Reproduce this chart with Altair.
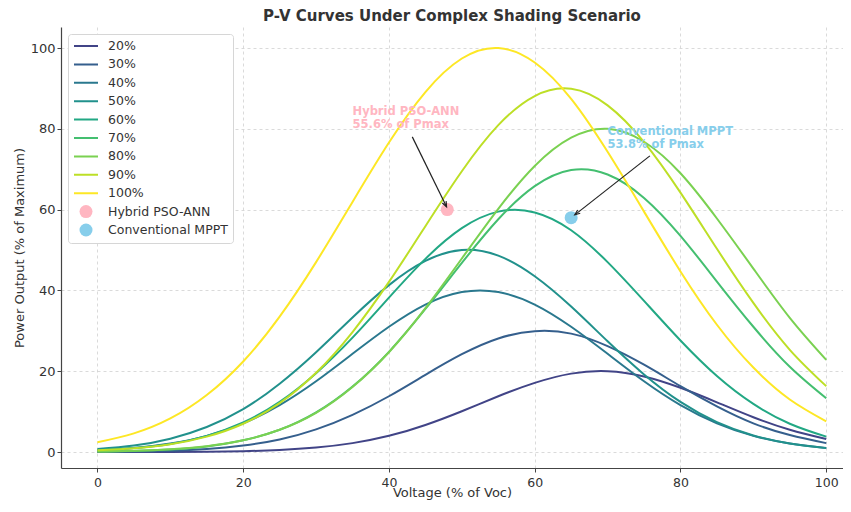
import altair as alt
import pandas as pd

# ---------------- data ----------------
voltage = [0, 5, 10, 15, 20, 25, 30, 35, 40, 45, 50, 55, 60, 65, 70, 75, 80, 85, 90, 95, 100]
series_labels = ["20%", "30%", "40%", "50%", "60%", "70%", "80%", "90%", "100%"]
p20 = [0.0, 0.01, 0.03, 0.08, 0.21, 0.5, 1.1, 2.2, 4.0, 6.7, 10.1, 13.8, 17.1, 19.4, 20.0, 18.7, 15.9, 12.3, 8.6, 5.5, 3.2]
p30 = [0.05, 0.13, 0.32, 0.75, 1.6, 3.1, 5.6, 9.2, 13.8, 19.1, 24.2, 28.1, 29.9, 29.3, 26.2, 21.6, 16.3, 11.3, 7.1, 4.2, 2.2]
p40 = [0.44, 1.0, 2.1, 4.0, 7.1, 11.6, 17.5, 24.3, 31.0, 36.5, 39.6, 39.6, 36.5, 31.0, 24.3, 17.5, 11.6, 7.1, 4.0, 2.1, 1.0]
p50 = [0.74, 1.6, 3.3, 6.2, 10.6, 16.9, 24.7, 33.3, 41.3, 47.3, 50.0, 48.6, 43.5, 36.0, 27.4, 19.2, 12.4, 7.4, 4.1, 2.1, 0.96]
p60 = [0.42, 0.97, 2.0, 4.0, 7.3, 12.4, 19.5, 28.3, 38.2, 47.8, 55.4, 59.5, 59.3, 54.9, 47.0, 37.4, 27.6, 18.8, 11.9, 7.0, 3.8]
p70 = [0.10, 0.26, 0.63, 1.39, 2.9, 5.5, 9.8, 16.2, 24.8, 35.4, 46.8, 57.6, 65.8, 69.8, 68.7, 62.9, 53.5, 42.2, 31.0, 21.1, 13.3]
p80 = [0.12, 0.29, 0.67, 1.45, 2.9, 5.5, 9.7, 16.1, 24.7, 35.6, 47.9, 60.2, 70.8, 77.8, 80.0, 76.8, 69.0, 57.8, 45.4, 33.2, 22.8]
p90 = [0.41, 0.91, 1.9, 3.8, 7.0, 12.1, 19.6, 29.7, 42.1, 55.9, 69.5, 80.9, 88.1, 89.9, 85.8, 76.7, 64.2, 50.3, 36.9, 25.3, 16.3]
p100 = [2.4, 4.6, 8.3, 14.1, 22.4, 33.5, 47.0, 61.9, 76.6, 89.1, 97.4, 100.0, 96.4, 87.4, 74.3, 59.5, 44.7, 31.5, 20.9, 13.0, 7.6]
series_values = [p20, p30, p40, p50, p60, p70, p80, p90, p100]

method_labels = ["Hybrid PSO-ANN", "Conventional MPPT"]
method_v = [48.0, 65.0]
method_p = [60.0, 58.0]

ann_texts = ["Hybrid PSO-ANN\n55.6% of Pmax", "Conventional MPPT\n53.8% of Pmax"]
ann_text_v = [35.0, 70.0]
ann_text_p = [85.6, 80.6]
arrow_start_v = [43.2, 75.8]
arrow_start_p = [78.0, 73.3]
arrow_end_v = [47.9, 65.5]
arrow_end_p = [60.7, 58.7]

# ---------------- styles ----------------
FONT = "DejaVu Sans"
line_colors = ["#414487", "#355f8d", "#2a788e", "#21918c", "#22a884",
               "#44bf70", "#7ad151", "#bddf26", "#fde725"]
method_colors = ["#FFB6C1", "#87CEEB"]
arrow_angles = [153.8, 231.9]

rows = []
for lab, vals in zip(series_labels, series_values):
    for v, p in zip(voltage, vals):
        rows.append({"V": v, "P": p, "label": lab})
lines_df = pd.DataFrame(rows)
points_df = pd.DataFrame({"V": method_v, "P": method_p, "label": method_labels})

all_labels = series_labels + method_labels
n_s, n_m = len(series_labels), len(method_labels)


def make_legend():
    return alt.Legend(
        orient="top-left", offset=7, padding=5, fillColor="white", strokeColor="#d6d6d6",
        cornerRadius=3, labelFont=FONT, labelFontSize=12.5, labelColor="#333333",
        symbolStrokeWidth=2, rowPadding=4.4, labelOffset=9, symbolOpacity=1,
        clipHeight=14,
    )


stroke_scale = alt.Scale(type="ordinal", domain=all_labels, range=line_colors + ["transparent"] * n_m)
fill_scale = alt.Scale(type="ordinal", domain=all_labels, range=["transparent"] * n_s + method_colors)
shape_scale = alt.Scale(type="ordinal", domain=all_labels, range=["stroke"] * n_s + ["circle"] * n_m)
size_scale = alt.Scale(type="ordinal", domain=all_labels, range=[576] * n_s + [169] * n_m)

x_scale = alt.Scale(domain=[-5, 102.3], nice=False, zero=False)
y_scale = alt.Scale(domain=[-3.96, 105.2], nice=False, zero=False)
x_axis = alt.Axis(values=[0, 20, 40, 60, 80, 100], title="Voltage (% of Voc)",
                  labelPadding=4, titlePadding=-2.5, labelFontSize=12.5)
y_axis = alt.Axis(values=[0, 20, 40, 60, 80, 100], title="Power Output (% of Maximum)")

lines = alt.Chart(lines_df).mark_line(strokeWidth=2, interpolate="natural").encode(
    x=alt.X("V:Q", scale=x_scale, axis=x_axis),
    y=alt.Y("P:Q", scale=y_scale, axis=y_axis),
    stroke=alt.Stroke("label:N", scale=stroke_scale, legend=make_legend(), title=None),
    order=alt.Order("V:Q"),
)

points = alt.Chart(points_df).mark_point(filled=True, opacity=1, strokeWidth=0).encode(
    x=alt.X("V:Q", scale=x_scale),
    y=alt.Y("P:Q", scale=y_scale),
    fill=alt.Fill("label:N", scale=fill_scale, legend=make_legend(), title=None),
    shape=alt.Shape("label:N", scale=shape_scale, legend=make_legend(), title=None),
    size=alt.Size("label:N", scale=size_scale, legend=make_legend(), title=None),
)

layers = [lines, points]
for i in range(2):
    adf = pd.DataFrame({"x1": [arrow_start_v[i]], "y1": [arrow_start_p[i]],
                        "x2": [arrow_end_v[i]], "y2": [arrow_end_p[i]]})
    rule = alt.Chart(adf).mark_rule(color="#222222", strokeWidth=1.2).encode(
        x=alt.X("x1:Q", scale=x_scale), y=alt.Y("y1:Q", scale=y_scale),
        x2="x2:Q", y2="y2:Q")
    head = alt.Chart(adf).mark_point(
        shape="M -0.4 1 L 0 0 L 0.4 1", filled=False, size=110, strokeWidth=1.2,
        color="#222222", opacity=1, angle=arrow_angles[i]).encode(
        x=alt.X("x2:Q", scale=x_scale), y=alt.Y("y2:Q", scale=y_scale))
    tdf = pd.DataFrame({"x": [ann_text_v[i]], "y": [ann_text_p[i]], "t": [ann_texts[i]]})
    txt = alt.Chart(tdf).mark_text(
        align="left", baseline="top", lineBreak="\n", font=FONT, fontSize=11.5,
        fontWeight="bold", color=method_colors[i], lineHeight=13).encode(
        x=alt.X("x:Q", scale=x_scale), y=alt.Y("y:Q", scale=y_scale), text="t:N")
    layers += [rule, head, txt]

chart = alt.layer(*layers).properties(
    width=782, height=441,
    title=alt.TitleParams("P-V Curves Under Complex Shading Scenario", font=FONT,
                          fontSize=15, fontWeight="bold", color="#333333",
                          anchor="middle", offset=3),
    autosize=alt.AutoSizeParams(type="none"),
    padding={"left": 53, "top": 19, "right": 0, "bottom": 32},
).configure_view(strokeWidth=0).configure_axis(
    domainColor="#444444", domainWidth=1.2, tickColor="#444444", tickSize=4,
    labelFont=FONT, labelFontSize=13, labelColor="#333333",
    titleFont=FONT, titleFontSize=13, titleColor="#333333", titleFontWeight="normal",
    gridColor="#d0d0d0", gridDash=[3, 3], gridWidth=0.8,
)

chart.save("out.html", embed_options={"renderer": "svg", "actions": False})
